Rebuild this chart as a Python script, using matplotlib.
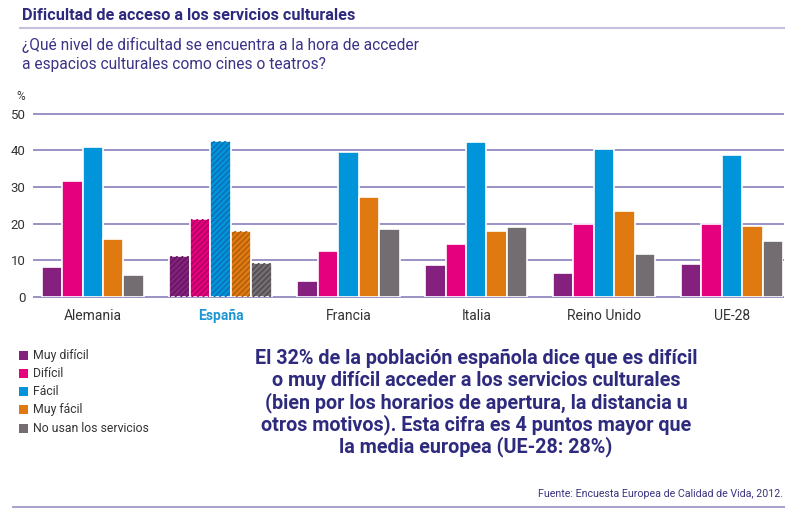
import numpy as np
import matplotlib.pyplot as plt
from matplotlib.patches import Rectangle

paises = ["Alemania", "España", "Francia", "Italia", "Reino Unido", "UE-28"]
series = ["Muy difícil", "Difícil", "Fácil", "Muy fácil", "No usan los servicios"]

muy_dificil = [8.1, 11.1, 4.2, 8.6, 6.6, 8.9]
dificil = [31.5, 21.3, 12.6, 14.3, 20.0, 19.9]
facil = [41.0, 42.6, 39.5, 42.4, 40.4, 38.6]
muy_facil = [15.7, 17.9, 27.2, 18.0, 23.5, 19.3]
no_usan = [5.8, 9.1, 18.5, 19.0, 11.6, 15.3]

yticks = [0, 10, 20, 30, 40, 50]

colores = ["#84207e", "#e5007d", "#0095da", "#e07a10", "#736d71"]
oscuros = ["#5e1659", "#a8005b", "#1068b0", "#a85a0c", "#4c4649"]
navy = "#2e2a7d"
lila = "#9a92c6"

plt.rcParams['font.family'] = ['Roboto', 'DejaVu Sans']
plt.rcParams['hatch.linewidth'] = 0.9

fig = plt.figure(figsize=(8, 5.08), dpi=100)
ax = fig.add_axes([0.0425, 0.4159, 0.93625, 0.3603])

valores = [muy_dificil, dificil, facil, muy_facil, no_usan]
x = np.arange(len(paises))
w = 0.16
for k, (vals, c) in enumerate(zip(valores, colores)):
    xs = x + (k - 2) * w
    ax.bar(xs, vals, width=w, color=c, edgecolor="white", linewidth=1.2, zorder=2)
    # España con trama
    i = paises.index("España")
    ax.bar(xs[i], vals[i], width=w - 0.014, facecolor="none", edgecolor=oscuros[k],
           hatch="//////", linewidth=0, zorder=3)

for t in yticks:
    ax.axhline(t, color=lila, lw=1.4, zorder=1, clip_on=False)

ax.set_xlim(-0.46, 5.40)
ax.set_ylim(0, 50)
for s in ax.spines.values():
    s.set_visible(False)
ax.set_yticks(yticks)
ax.set_yticklabels([str(t) for t in yticks], fontsize=9.5, color="#333333")
ax.tick_params(axis="y", length=0, pad=6)
ax.set_xticks(x)
ax.set_xticklabels(paises, fontsize=10, color="#333333")
ax.tick_params(axis="x", length=0, pad=9)
for lbl in ax.get_xticklabels():
    if lbl.get_text() == "España":
        lbl.set_color("#1d96d4")
        lbl.set_fontweight("bold")

# cabecera
fig.text(22 / 800, 1 - 15 / 508, "Dificultad de acceso a los servicios culturales",
         fontsize=11.7, fontweight="bold", color=navy, va="center", ha="left")
fig.add_artist(plt.Line2D([20 / 800, 784 / 800], [1 - 28 / 508] * 2, color="#c4bfdc", lw=1.5))
fig.text(22 / 800, 1 - 45 / 508, "¿Qué nivel de dificultad se encuentra a la hora de acceder",
         fontsize=11.2, color="#3a3386", va="center", ha="left")
fig.text(22 / 800, 1 - 65 / 508, "a espacios culturales como cines o teatros?",
         fontsize=11.2, color="#3a3386", va="center", ha="left")
fig.text(16 / 800, 1 - 97 / 508, "%", fontsize=8.5, color="#333333", va="center", ha="left")

# leyenda
for k, (nombre, c) in enumerate(zip(series, colores)):
    yc = 1 - (355 + k * 18.3) / 508
    fig.add_artist(Rectangle((19 / 800, yc - 4.5 / 508), 9 / 800, 9 / 508,
                             facecolor=c, edgecolor="none", transform=fig.transFigure))
    fig.text(33 / 800, yc, nombre, fontsize=8.8, color="#333333", va="center", ha="left")

nota = ["El 32% de la población española dice que es difícil",
        "o muy difícil acceder a los servicios culturales",
        "(bien por los horarios de apertura, la distancia u",
        "otros motivos). Esta cifra es 4 puntos mayor que",
        "la media europea (UE-28: 28%)"]
for k, linea in enumerate(nota):
    fig.text(476 / 800, 1 - (358 + k * 22.2) / 508, linea, fontsize=14.2,
             fontweight="bold", color=navy, va="center", ha="center")

fig.text(783 / 800, 1 - 494 / 508, "Fuente: Encuesta Europea de Calidad de Vida, 2012.",
         fontsize=7.7, color="#3a3480", va="center", ha="right")
fig.add_artist(plt.Line2D([13 / 800, 784 / 800], [1 - 506.5 / 508] * 2, color="#a9a3cf", lw=1.5))

fig.savefig("out.png", dpi=100)
